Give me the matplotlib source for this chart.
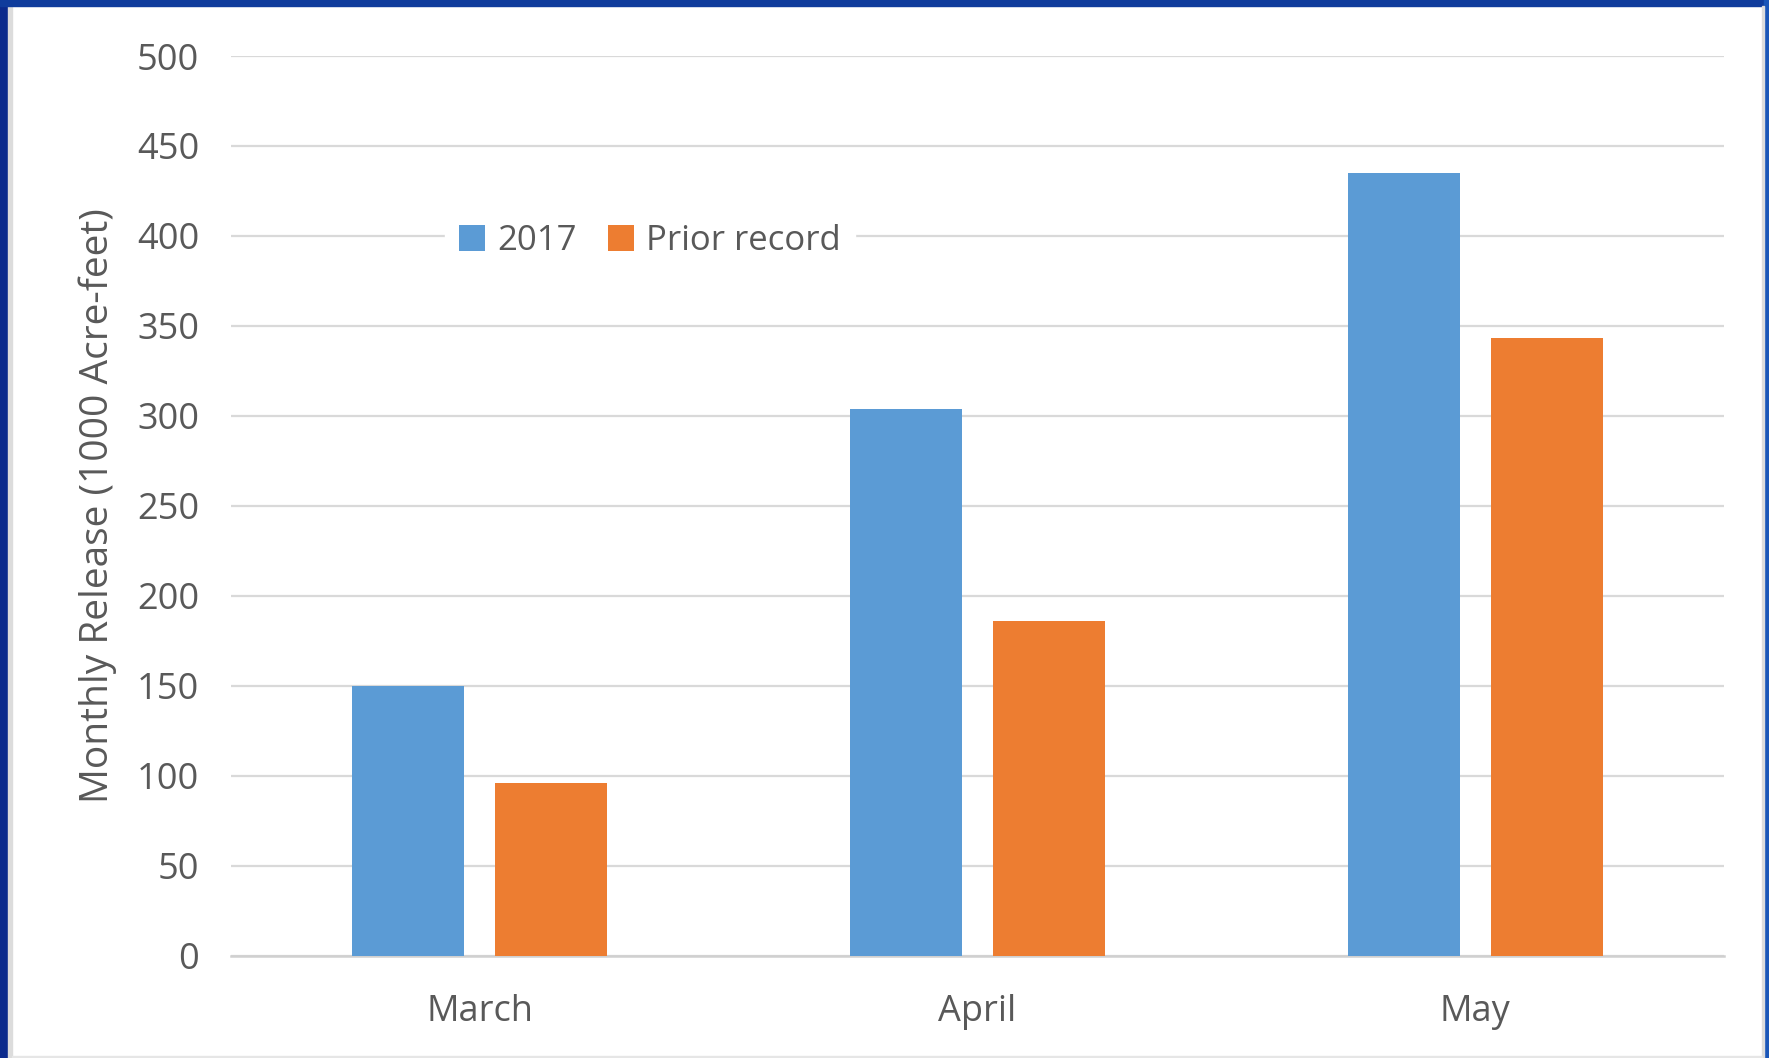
import matplotlib
matplotlib.use("Agg")
import matplotlib.pyplot as plt
from matplotlib.patches import Rectangle
import numpy as np

months = ["March", "April", "May"]
release_2017 = [150, 304, 435]
prior_record = [96, 186, 343]
y_ticks = [0, 50, 100, 150, 200, 250, 300, 350, 400, 450, 500]

plt.rcParams['font.family'] = ['Open Sans', 'DejaVu Sans']
text_gray = '#595959'

W, H = 1769, 1058
fig = plt.figure(figsize=(W / 100, H / 100), dpi=100)
fig.patch.set_facecolor('white')

# slide-style frame
fig.patches.append(Rectangle((0, 0), 8 / W, 1, transform=fig.transFigure, color='#0b2a8c', zorder=0))
fig.patches.append(Rectangle((8 / W, 0), 4 / W, 1 - 6 / H, transform=fig.transFigure, color='#dcdcdc', zorder=0))
fig.patches.append(Rectangle((0, 1 - 6 / H), 1, 6 / H, transform=fig.transFigure, color='#0f3c9c', zorder=0))
fig.patches.append(Rectangle((1 - 5 / W, 0), 5 / W, 1, transform=fig.transFigure, color='#1a56b8', zorder=0))
fig.patches.append(Rectangle((1 - 7 / W, 0), 2 / W, 1 - 6 / H, transform=fig.transFigure, color='#dcdcdc', zorder=0))
fig.patches.append(Rectangle((12 / W, 0), 1 - 19 / W, 2 / H, transform=fig.transFigure, color='#e6e6e6', zorder=0))

ax = fig.add_axes([231 / W, 1 - 955.5 / H, (1724 - 231) / W, (955.5 - 56) / H])
x = np.arange(len(months))
w = 0.225
off = 0.1436
ax.bar(x - off, release_2017, w, color='#5b9bd5', label='2017', zorder=3)
ax.bar(x + off, prior_record, w, color='#ed7d31', label='Prior record', zorder=3)

ax.set_xlim(-0.5, 2.5)
ax.set_ylim(0, 500)
ax.set_yticks(y_ticks)
ax.set_xticks(x)
ax.set_xticklabels(months)
ax.tick_params(axis='both', length=0, labelsize=26, labelcolor=text_gray)
ax.tick_params(axis='y', pad=23)
ax.tick_params(axis='x', pad=28)
ax.grid(axis='y', color='#d9d9d9', linewidth=1.6, zorder=0)
for s in ['top', 'right', 'left']:
    ax.spines[s].set_visible(False)
ax.spines['bottom'].set_color('#d0d0d0')
ax.spines['bottom'].set_linewidth(1.8)

ax.set_ylabel('Monthly Release (1000 Acre-feet)', fontsize=28, color=text_gray, labelpad=14)

leg = fig.legend(loc='center', bbox_to_anchor=(650 / W, 1 - 241 / H), ncol=2, frameon=True,
                 fontsize=25, handlelength=0.75, handleheight=0.75, handletextpad=0.35,
                 columnspacing=0.9, borderpad=0.4)
leg.get_frame().set_facecolor('white')
leg.get_frame().set_edgecolor('white')
leg.get_frame().set_alpha(1)
for t in leg.get_texts():
    t.set_color(text_gray)

fig.savefig('out.png', dpi=100)
